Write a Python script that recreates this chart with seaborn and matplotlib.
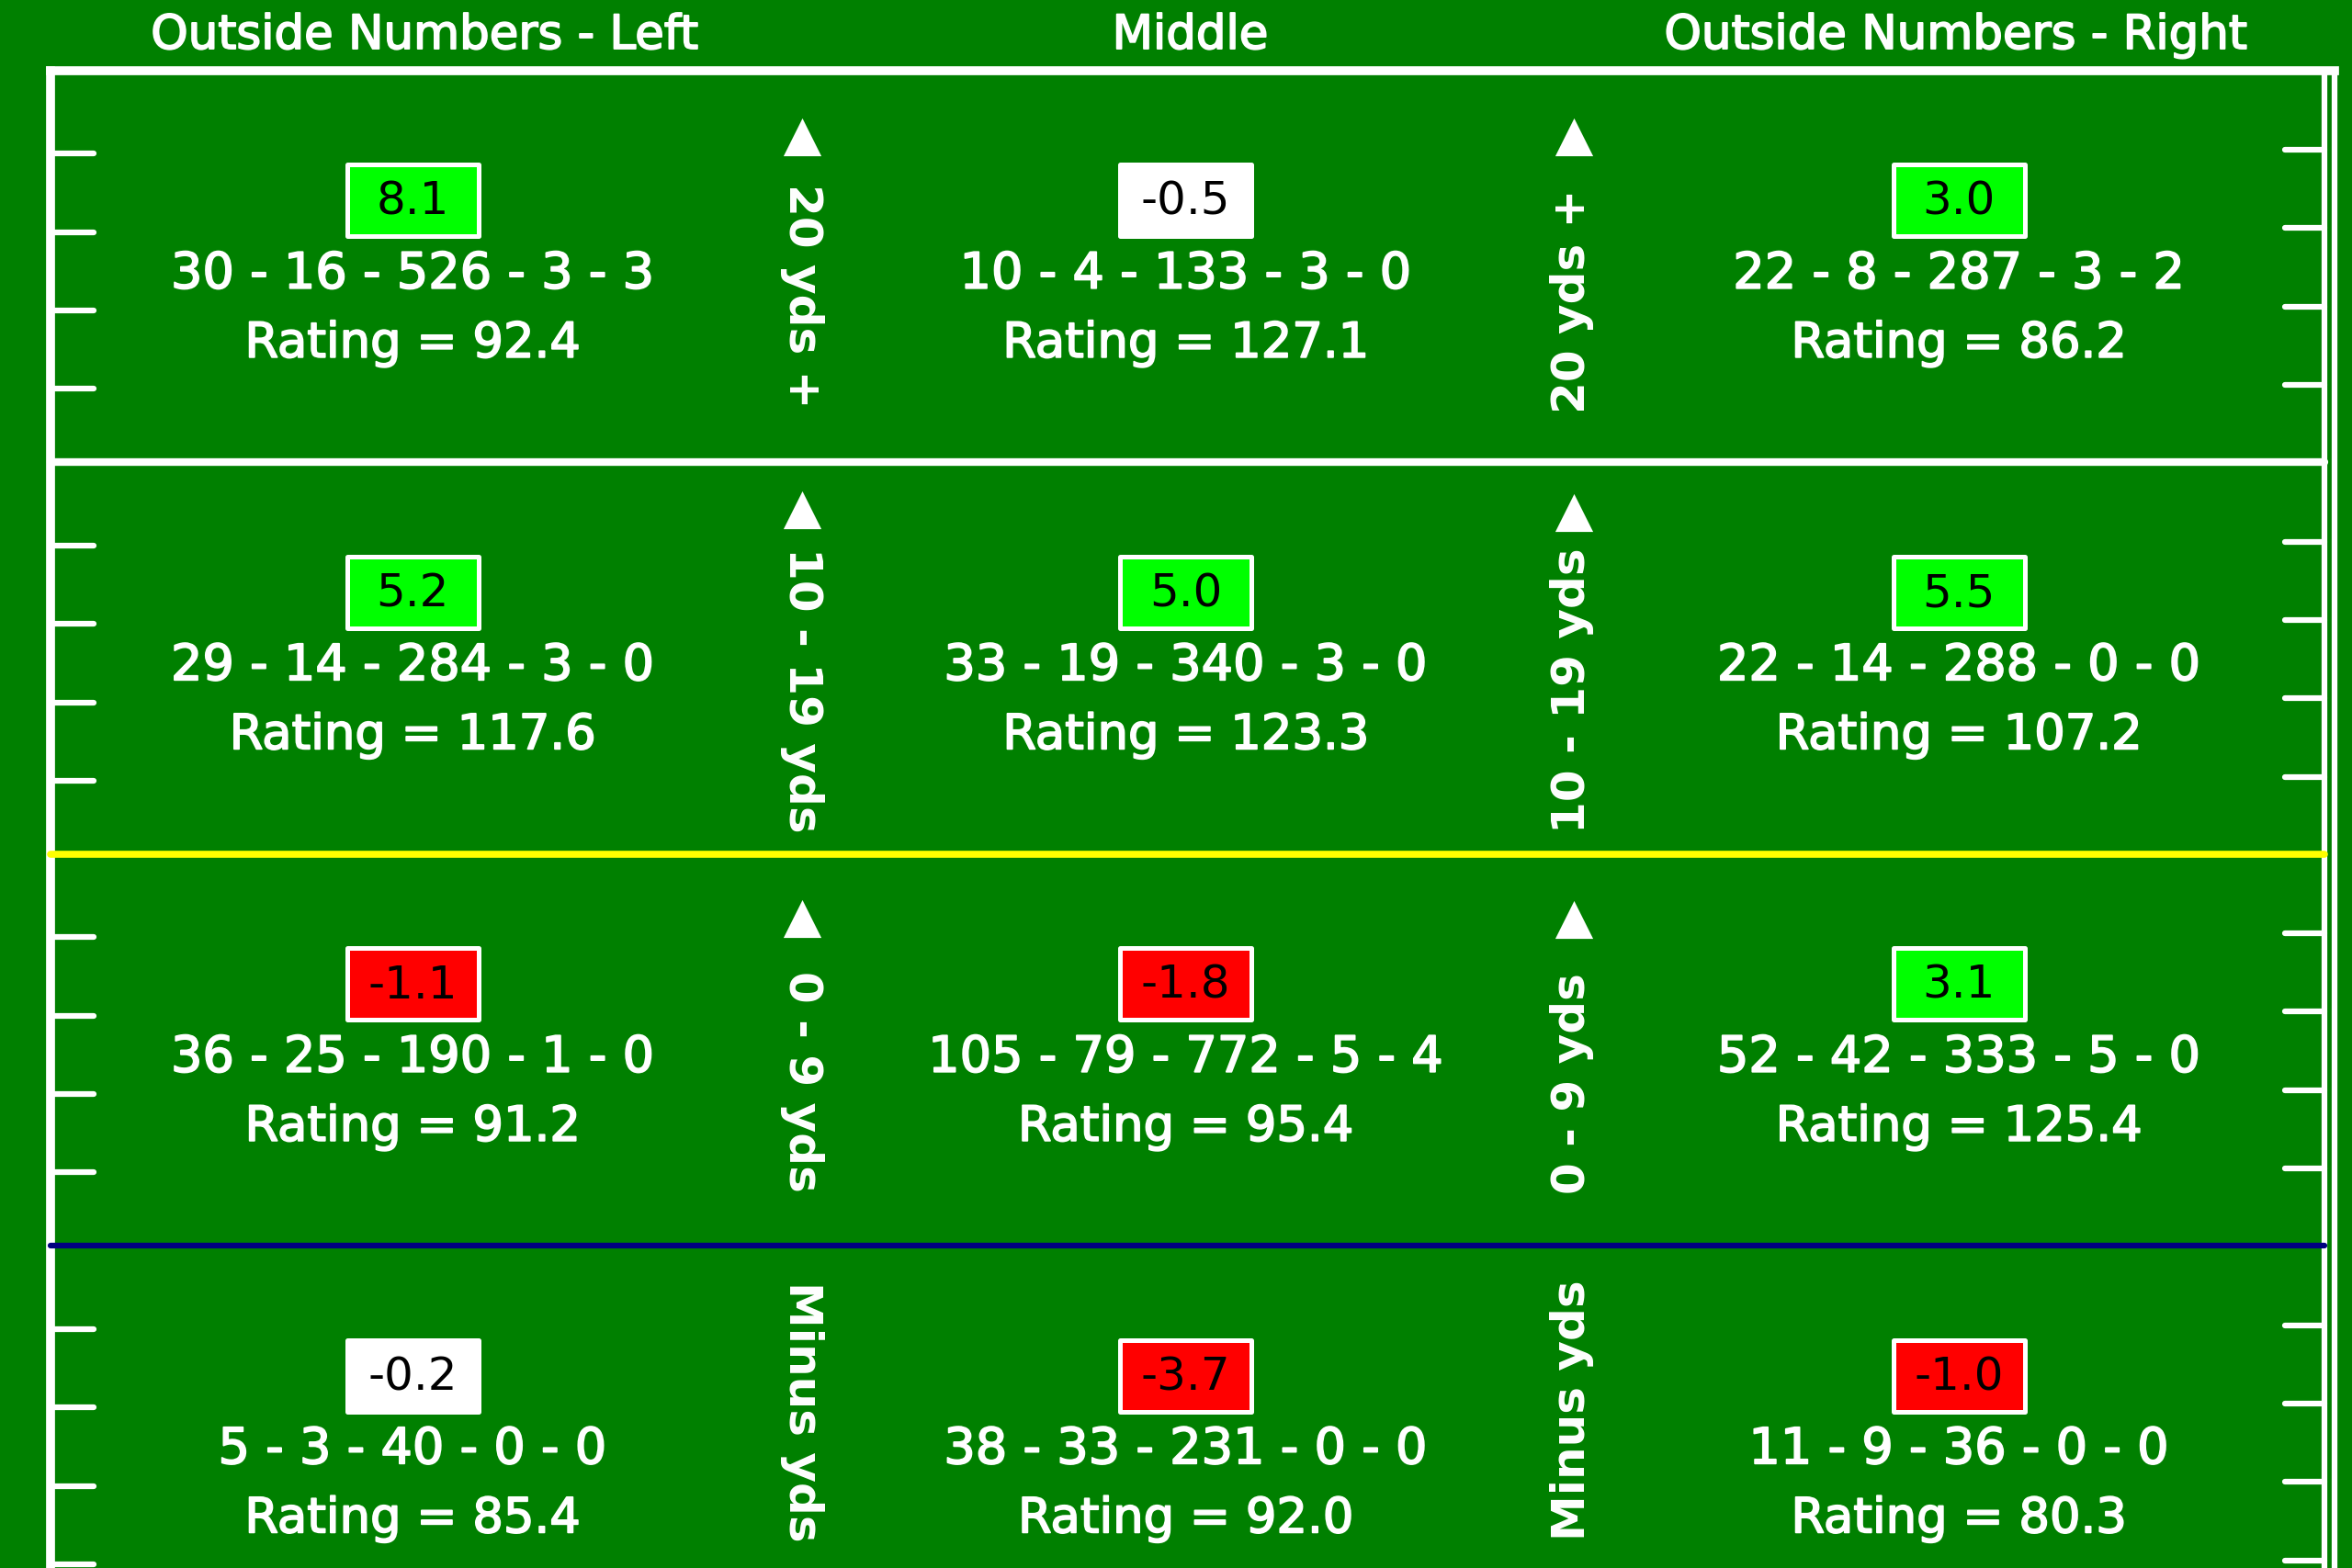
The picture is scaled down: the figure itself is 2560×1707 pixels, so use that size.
import numpy as np
import pandas as pd
import matplotlib
matplotlib.use("Agg")
import matplotlib.pyplot as plt
import matplotlib.patheffects as pe
from matplotlib.path import Path
import seaborn as sns

# ---------------- data ----------------
columns = ["Outside Numbers - Left", "Middle", "Outside Numbers - Right"]
zones = ["20 yds +", "10 - 19 yds", "0 - 9 yds", "Minus yds"]
plus_minus = [[8.1, -0.5, 3.0],
              [5.2, 5.0, 5.5],
              [-1.1, -1.8, 3.1],
              [-0.2, -3.7, -1.0]]
attempts = [[30, 10, 22], [29, 33, 22], [36, 105, 52], [5, 38, 11]]
completions = [[16, 4, 8], [14, 19, 14], [25, 79, 42], [3, 33, 9]]
yards = [[526, 133, 287], [284, 340, 288], [190, 772, 333], [40, 231, 36]]
touchdowns = [[3, 3, 3], [3, 3, 0], [1, 5, 5], [0, 0, 0]]
interceptions = [[3, 0, 2], [0, 0, 0], [0, 4, 0], [0, 0, 0]]
ratings = [[92.4, 127.1, 86.2],
           [117.6, 123.3, 107.2],
           [91.2, 95.4, 125.4],
           [85.4, 92.0, 80.3]]

# ---------------- style ----------------
FIELD = "#008000"
tier_colors = {"good": "#00ff00", "neutral": "#ffffff", "bad": "#ff0000"}

sns.set_theme(style="white")
plt.rcParams["font.family"] = ["DejaVu Sans"]

def tier(v):
    if v >= 1.0:
        return "good"
    if v <= -1.0:
        return "bad"
    return "neutral"

rows = []
for r, zone in enumerate(zones):
    for c, col in enumerate(columns):
        rows.append(dict(col=c, row=r, zone=zone, column=col,
                         value=plus_minus[r][c], tier=tier(plus_minus[r][c]),
                         stat=f"{attempts[r][c]} - {completions[r][c]} - {yards[r][c]} - "
                              f"{touchdowns[r][c]} - {interceptions[r][c]}",
                         rating=ratings[r][c]))
df = pd.DataFrame(rows)

# layout offsets within a row (fraction of row height)
BOX_OFF, STAT_OFF, RATE_OFF = 0.331, 0.520, 0.696
df["box_y"] = df["row"] + BOX_OFF

fig = plt.figure(figsize=(25.6, 17.07), dpi=100, facecolor=FIELD)
ax = fig.add_axes([0, 0, 1, 1])
ax.set_facecolor(FIELD)
ax.set_xlim(-0.5336, 2.5086)
ax.set_ylim(3.8218, -0.1805)
ax.axis("off")

heavy = [pe.withStroke(linewidth=1.3, foreground="white")]

# ---------------- field lines ----------------
XL, XRI, XRO, YT, YB = -0.4682, 2.473, 2.486, 0.0, 3.95
ax.plot([XL, XL], [YT, YB], color="white", lw=7, solid_capstyle="projecting", zorder=2)
ax.plot([XL, XRO], [YT, YT], color="white", lw=7, solid_capstyle="projecting", zorder=2)
ax.plot([XRO, XRO], [YT, YB], color="white", lw=4.5, zorder=2)
ax.plot([XRI, XRI], [YT, YB], color="white", lw=4.5, zorder=2)
sep_colors = ["white", "#ffff00", "#000080"]
sep_lw = [6, 5.5, 4.5]
for i, (sc, slw) in enumerate(zip(sep_colors, sep_lw)):
    ax.plot([XL, XRI], [i + 1, i + 1], color=sc, lw=slw, zorder=2)

# hash marks
for r in range(len(zones)):
    for k in range(1, 5):
        yl = r + 0.2 * k + 0.012
        yr = r + 0.2 * k + 0.002
        ax.plot([XL, -0.4124], [yl, yl], color="white", lw=4.5, zorder=2)
        ax.plot([2.4218, XRI], [yr, yr], color="white", lw=4.5, zorder=2)

# ---------------- headers ----------------
header_shift = [0.0155, 0.006, -0.004]
for c, name in enumerate(columns):
    ax.text(c + header_shift[c], -0.089, name, color="white", fontsize=37,
            ha="center", va="center", path_effects=heavy)

# ---------------- value boxes ----------------
rect = Path([(-1, -0.545), (1, -0.545), (1, 0.545), (-1, 0.545), (-1, -0.545)],
            [Path.MOVETO, Path.LINETO, Path.LINETO, Path.LINETO, Path.CLOSEPOLY])
sns.scatterplot(data=df, x="col", y="box_y", hue="tier", palette=tier_colors,
                marker=rect, s=10600, edgecolor="white", linewidth=3.6,
                legend=False, ax=ax, zorder=3)

for _, d in df.iterrows():
    ax.text(d["col"], d["box_y"] + 0.004, f"{d['value']:.1f}", color="black",
            fontsize=36, ha="center", va="center", zorder=4)
    ax.text(d["col"], d["row"] + STAT_OFF, d["stat"], color="white",
            fontsize=39, ha="center", va="center", zorder=4, path_effects=heavy)
    ax.text(d["col"], d["row"] + RATE_OFF, f"Rating = {d['rating']:.1f}", color="white",
            fontsize=38, ha="center", va="center", zorder=4, path_effects=heavy)

# ---------------- zone labels between columns ----------------
XLAB_L, XLAB_R = 0.5039, 1.4996
tri_off_l = [0.170, 0.121, 0.165, None]
tri_off_r = [0.170, 0.128, 0.167, None]
txt_off_l = [0.574, 0.580, 0.581, 0.422]
txt_off_r = [0.589, 0.583, 0.584, 0.420]
for r, zone in enumerate(zones):
    ax.text(XLAB_L, r + txt_off_l[r], zone, color="white", fontsize=36,
            fontweight="bold", rotation=-90, ha="center", va="center",
            rotation_mode="anchor", zorder=4)
    ax.text(XLAB_R, r + txt_off_r[r], zone, color="white", fontsize=36,
            fontweight="bold", rotation=90, ha="center", va="center",
            rotation_mode="anchor", zorder=4)
    if tri_off_l[r] is not None:
        ax.scatter([XLAB_L], [r + tri_off_l[r]], marker="^", s=880,
                   color="white", linewidths=0, zorder=4)
        ax.scatter([XLAB_R + 0.002], [r + tri_off_r[r]], marker="^", s=880,
                   color="white", linewidths=0, zorder=4)

fig.savefig("out.png", dpi=100, facecolor=FIELD)
